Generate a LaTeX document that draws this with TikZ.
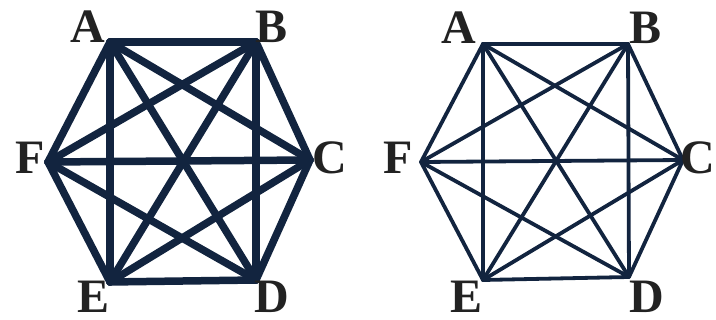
\documentclass[tikz,border=0pt]{standalone}
\usepackage{fontspec}
\setmainfont{Liberation Serif}
\usepackage{xcolor}
\definecolor{navy}{HTML}{12243F}
\definecolor{lettergray}{HTML}{222222}
\usetikzlibrary{positioning}

\begin{document}
\begin{tikzpicture}[
  x=1pt, y=-1pt,
  lbl/.style   = {font=\fontsize{48}{48}\selectfont\bfseries, text=lettergray, inner sep=0pt},
  thickedge/.style = {draw=navy, line width=7.5pt, line cap=round, line join=round},
  thinedge/.style  = {draw=navy, line width=3.8pt, line cap=round, line join=round},
]
\useasboundingbox (0,0) rectangle (716,320);

% left graph
\coordinate (lA) at (110,42);
\coordinate (lB) at (256,42);
\coordinate (lC) at (310,160);
\coordinate (lD) at (256,280);
\coordinate (lE) at (110,282);
\coordinate (lF) at (48,162);

% right graph
\coordinate (rA) at (483,44);
\coordinate (rB) at (628,44);
\coordinate (rC) at (683,160);
\coordinate (rD) at (629,277);
\coordinate (rE) at (483,280);
\coordinate (rF) at (421,162);

\foreach \u/\v in {A/B,A/C,A/D,A/E,A/F,B/C,B/D,B/E,B/F,C/D,C/E,C/F,D/E,D/F,E/F} {
  \draw[thickedge] (l\u) -- (l\v);
  \draw[thinedge]  (r\u) -- (r\v);
}

% labels
\node[lbl] (labA)  at (88,27)   {A};
\node[lbl] (labB)  at (272,27)  {B};
\node[lbl] (labC)  at (330,158) {C};
\node[lbl] (labD)  at (272,297) {D};
\node[lbl] (labE)  at (94,297)  {E};
\node[lbl] (labF)  at (30,158)  {F};

\node[lbl] (rlabA) at (459,28)  {A};
\node[lbl] (rlabB) at (646,28)  {B};
\node[lbl] (rlabC) at (698,158) {C};
\node[lbl] (rlabD) at (647,297) {D};
\node[lbl] (rlabE) at (467,297) {E};
\node[lbl] (rlabF) at (398,158) {F};

\end{tikzpicture}
\end{document}
